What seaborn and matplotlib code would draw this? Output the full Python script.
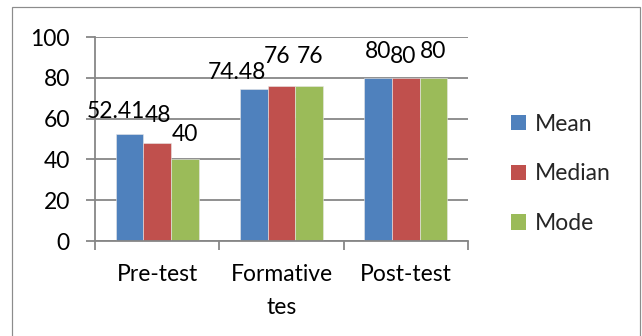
import matplotlib
matplotlib.use("Agg")
import matplotlib.pyplot as plt
from matplotlib.patches import Rectangle
from matplotlib.ticker import FixedLocator
import seaborn as sns
import pandas as pd

# Test scores summary
tests = ["Pre-test", "Formative\ntes", "Post-test"]
stats = ["Mean", "Median", "Mode"]
mean_vals = [52.41, 74.48, 80]
median_vals = [48, 76, 80]
mode_vals = [40, 76, 80]
value_labels = {
    "Mean": ["52.41", "74.48", "80"],
    "Median": ["48", "76", "80"],
    "Mode": ["40", "76", "80"],
}
colors = ["#4F81BD", "#C0504D", "#9BBB59"]

# per-label nudges in pixels (dx, gap above bar top)
nudges = {
    "Mean": [(-14, 16), (-17, 10), (0, 20)],
    "Median": [(1, 21), (-4, 23), (-3, 15)],
    "Mode": [(0, 18), (1, 23), (0, 20)],
}

rows = []
for s, vals in zip(stats, [mean_vals, median_vals, mode_vals]):
    for t, v in zip(tests, vals):
        rows.append({"test": t, "stat": s, "value": v})
df = pd.DataFrame(rows)

sns.set_theme(style="white")
plt.rcParams["font.family"] = ["Lato", "DejaVu Sans"]

FS = 16.5
DPI = 100
W, H = 642, 336
fig = plt.figure(figsize=(W / DPI, H / DPI), dpi=DPI)
ax = fig.add_axes([95 / W, 1 - 241 / H, (468 - 95) / W, (241 - 37) / H])

sns.barplot(data=df, x="test", y="value", hue="stat", order=tests,
            hue_order=stats, palette=colors, saturation=1, width=0.667,
            edgecolor="#e8e8e8", linewidth=0.4, errorbar=None, ax=ax)

px = 72 / DPI
grey = "#868686"

ax.set_ylim(0, 100)
ax.set_xlim(-0.5, 2.5)
ax.set_yticks(range(0, 101, 20))
ax.yaxis.grid(True, color=grey, linewidth=1.8 * px)
ax.set_axisbelow(True)
ax.set_xlabel("")
ax.set_ylabel("")
for side in ["top", "right"]:
    ax.spines[side].set_visible(False)
for side in ["left", "bottom"]:
    ax.spines[side].set_color(grey)
    ax.spines[side].set_linewidth(1.8 * px)

ax.tick_params(axis="y", length=9 * px, width=1.8 * px, color=grey,
               labelsize=FS, pad=16 * px, labelcolor="black", left=True)
ax.tick_params(axis="x", which="major", length=0, labelsize=FS,
               pad=23 * px, labelcolor="black")
ax.xaxis.set_minor_locator(FixedLocator([-0.5, 0.5, 1.5, 2.5]))
ax.tick_params(axis="x", which="minor", length=9 * px, width=1.8 * px,
               color=grey, bottom=True)
for lab in ax.get_xticklabels():
    lab.set_linespacing(1.7)

# value labels above each bar
for container, s in zip(ax.containers, stats):
    for i, bar in enumerate(container):
        dx, gap = nudges[s][i]
        ax.annotate(value_labels[s][i],
                    xy=(bar.get_x() + bar.get_width() / 2, bar.get_height()),
                    xytext=(dx * px, gap * px), textcoords="offset points",
                    ha="center", va="baseline", fontsize=FS, color="black")

leg = ax.legend(loc="center left", bbox_to_anchor=(511 / W, 1 - 174 / H),
                bbox_transform=fig.transFigure, frameon=False, fontsize=FS,
                handlelength=0.65, handleheight=0.65, handletextpad=0.4,
                labelspacing=1.25, borderpad=0, borderaxespad=0)
for h in leg.legend_handles:
    h.set_edgecolor("none")

fig.add_artist(Rectangle((12 / W, -0.1), (640 - 12) / W, 1 - 7 / H + 0.1,
                         transform=fig.transFigure, fill=False,
                         edgecolor="#8c8c8c", linewidth=1.2 * px))

fig.savefig("out.png", dpi=DPI)
